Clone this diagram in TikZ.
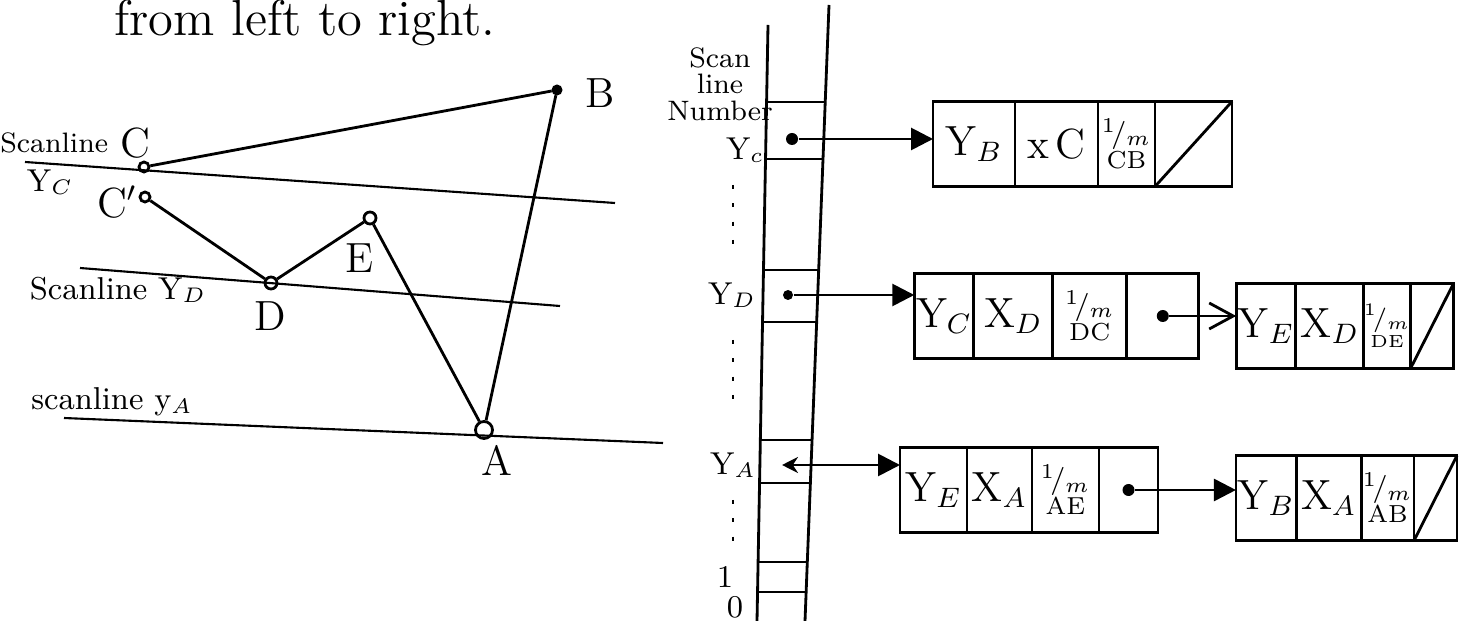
\documentclass[tikz,border=0pt]{standalone}
\usepackage{amsmath,amssymb}
\usepackage{xcolor}
\usepackage{tikz}
\usetikzlibrary{arrows.meta,positioning,calc}

\begin{document}
\begin{tikzpicture}[
    x=0.1mm, y=-0.1mm,
    vtx/.style={circle, draw, thick, inner sep=0pt, minimum size=1mm},
    edge/.style={thick},
    scan/.style={semithick},
    lab/.style={font=\large, inner sep=1pt},
    note/.style={font=\small, inner sep=1pt},
    cell/.style={draw, thick, minimum height=8.5mm, inner sep=0.5pt, outer sep=0pt, font=\large},
    slope/.style={cell, font=\footnotesize, align=center},
    dot/.style={circle, fill, inner sep=0pt, minimum size=1.2mm},
    ptr/.style={-{Triangle[length=2.2mm, width=2.2mm]}, thick},
    nxt/.style={-{Straight Barb[length=2.4mm, width=2.6mm]}, thick}
]
\useasboundingbox (0,0) rectangle (1460,621);

% heading, cut at the top
\node[font=\Large, anchor=base] (head) at (305,36) {from left to right.};

% polygon and its scan lines
\node[vtx] (C) at (144,167) {};
\node[vtx] (C2) at (145,197) {};
\node[vtx, minimum size=1.2mm] (D) at (271,283) {};
\node[vtx, minimum size=1.2mm] (E) at (370,218) {};
\node[vtx, minimum size=1.7mm] (A) at (484,430) {};
\node[vtx, fill, minimum size=0.8mm] (B) at (557,90) {};
\draw[edge] (C) -- (B);
\draw[edge] (C2) -- (D);
\draw[edge] (D) -- (E);
\draw[edge] (E) -- (A);
\draw[edge] (A) -- (B);
\draw[scan] (25,162) -- (615,203);
\draw[scan] (80,268) -- (560,306);
\draw[scan] (64,418) -- (663,443);

\node[lab] (labB) at (600,93) {B};
\node[lab] (labC) at (135,143) {C};
\node[note, font=\footnotesize, left=1pt of labC] (labSC) {Scanline};
\node[note] (labYc) at (50,182) {Y$_C$};
\node[lab] (labC2) at (117,202) {C$'$};
\node[lab] (labE) at (360,258) {E};
\node[lab] (labD) at (270,316) {D};
\node[lab] (labA) at (497,460) {A};
\node[note] (labSD) at (118,290) {Scanline Y$_D$};
\node[note] (labSA) at (112,402) {scanline y$_A$};

% edge table
\draw[thick] (768,25) -- (757,621);
\draw[thick] (829,5) -- (805,621);
\foreach \y/\l/\r in {102/766.6/825.2, 159/765.6/823.0, 270/763.5/818.7, 322/762.5/816.6,
                      440/760.4/812.1, 483/759.6/810.4, 562/758.1/807.3, 592/757.6/806.1}
    \draw[semithick] (\l,\y) -- (\r,\y);
\foreach \a/\b in {185/258, 340/405, 500/552}
    \draw[thick, dash pattern=on 1.2pt off 4pt] (733,\a) -- (733,\b);

\node[note, font=\footnotesize, align=center] (hdr) at (720,84) {Scan\\[-2pt]line\\[-2pt]Number};
\node[note] (ylc) at (745,150) {Y$_c$};
\node[note] (yld) at (732,295) {Y$_D$};
\node[note] (yla) at (733,465) {Y$_A$};
\node[note] (yl1) at (725,577) {1};
\node[note] (yl0) at (735,607) {0};

\node[dot] (pc) at (792,139) {};
\node[dot, minimum size=1mm] (pd) at (788,295) {};
\coordinate (pa) at (782,465);

% row Yc
\node[cell, minimum width=8.2mm] (r1a) at (974,144) {Y$_B$};
\node[cell, minimum width=8.3mm, right=0pt of r1a] (r1b) {x\,C};
\node[slope, minimum width=5.7mm, right=0pt of r1b] (r1c) {$^1\!/_m$\\[-2pt]{\scriptsize CB}};
\node[cell, minimum width=7.7mm, right=0pt of r1c] (r1d) {};
\draw[thick] (r1d.south west) -- (r1d.north east);

% row YD
\node[cell, minimum width=5.8mm] (r2a) at (944,316) {Y$_C$};
\node[cell, minimum width=7.9mm, right=0pt of r2a] (r2b) {X$_D$};
\node[slope, minimum width=7.4mm, right=0pt of r2b] (r2c) {$^1\!/_m$\\[-2pt]{\scriptsize DC}};
\node[cell, minimum width=7.2mm, right=0pt of r2c] (r2d) {};
\node[cell, minimum width=5.7mm] (r2e) at (1266,326) {Y$_E$};
\node[cell, minimum width=6.8mm, right=0pt of r2e] (r2f) {X$_D$};
\node[slope, font=\scriptsize, inner sep=0pt, minimum width=3.7mm, right=0pt of r2f] (r2g) {$^1\!/_m$\\[-2pt]{\tiny DE}};
\node[cell, minimum width=4.3mm, right=0pt of r2g] (r2h) {};
\draw[thick] (r2h.south west) -- (r2h.north east);

% row YA
\node[cell, minimum width=6.7mm] (r3a) at (933.5,490) {Y$_E$};
\node[cell, minimum width=6.5mm, right=0pt of r3a] (r3b) {X$_A$};
\node[slope, minimum width=6.7mm, right=0pt of r3b] (r3c) {$^1\!/_m$\\[-2pt]{\scriptsize AE}};
\node[cell, minimum width=5.9mm, right=0pt of r3c] (r3d) {};
\node[cell, minimum width=5.4mm] (r3e) at (1266,498) {Y$_B$};
\node[cell, minimum width=6.5mm, right=0pt of r3e] (r3f) {X$_A$};
\node[slope, minimum width=4.6mm, right=0pt of r3f] (r3g) {$^1\!/_m$\\[-2pt]{\scriptsize AB}};
\node[cell, minimum width=4.3mm, right=0pt of r3g] (r3h) {};
\draw[thick] (r3h.south west) -- (r3h.north east);

% pointers
\draw[ptr] (pc) -- (pc -| r1a.west);
\draw[ptr] (pd) -- (pd -| r2a.west);
\draw[{Stealth[length=1.6mm, width=1.6mm]}-{Triangle[length=2.2mm, width=2.2mm]}, thick] (pa) -- (pa -| r3a.west);
\node[dot] (n2) at (r2d.center) {};
\draw[nxt] (n2) -- (n2 -| r2e.west);
\node[dot] (n3) at (r3d.center) {};
\draw[ptr] (n3) -- (n3 -| r3e.west);
\end{tikzpicture}
\end{document}
